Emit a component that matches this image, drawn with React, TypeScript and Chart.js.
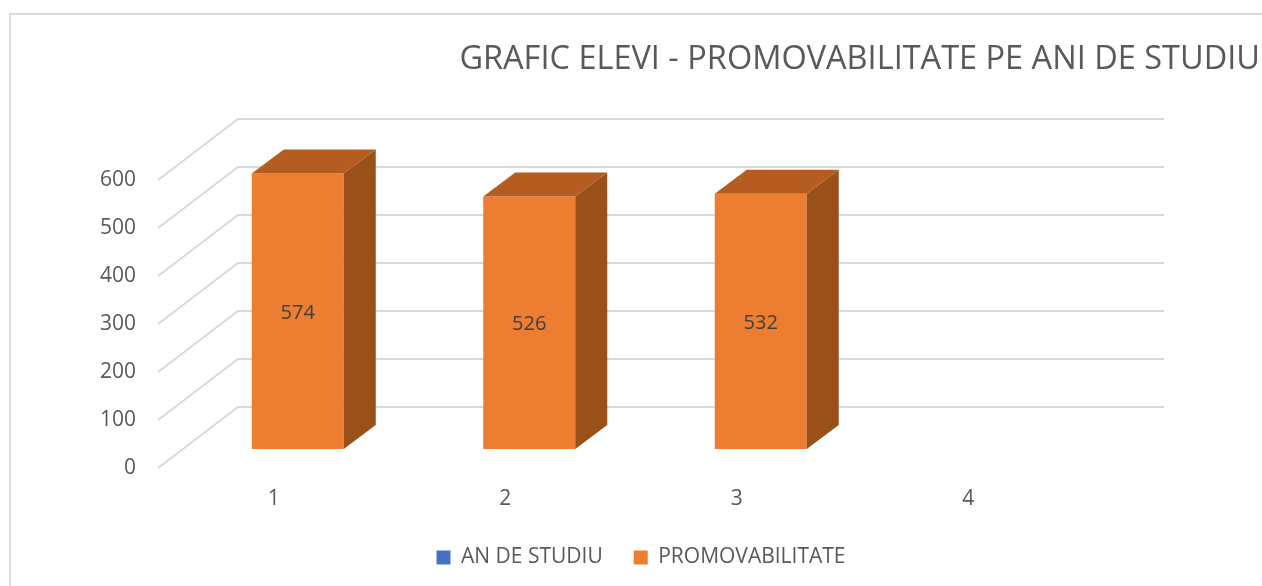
import React, { useEffect, useRef } from "react";
import { Chart, registerables } from "chart.js";

Chart.register(...registerables);

const categories = ["1", "2", "3", "4"];
const anDeStudiu: (number | null)[] = [null, null, null, null];
const promovabilitate: (number | null)[] = [574, 526, 532, null];
const titleText = "GRAFIC ELEVI - PROMOVABILITATE PE ANI DE STUDIU";
const seriesNames = ["AN DE STUDIU", "PROMOVABILITATE"];

const FONT = "'Open Sans', sans-serif";
const TEXT = "#595959";
const GRID = "#D9D9D9";
const WALL = { dx: 80, dy: 61 };
const BAR_SHIFT = { dx: 24, dy: 19 };
const BAR_DEPTH = { dx: 32, dy: 24 };
const VALUE_LABEL_DY = 2;

const scene = {
  id: "scene3d",
  beforeDatasetsDraw(chart: any) {
    const { ctx, scales } = chart;
    const y = scales.y;
    const left = chart.chartArea.left;
    const right = chart.chartArea.right;
    ctx.save();
    // frame of the chart object
    ctx.strokeStyle = GRID;
    ctx.lineWidth = 2;
    ctx.beginPath();
    ctx.moveTo(10, chart.height);
    ctx.lineTo(10, 14);
    ctx.lineTo(chart.width, 14);
    ctx.stroke();
    // gridlines: floor/side wall diagonals and back wall
    ctx.lineWidth = 1.8;
    y.ticks.forEach((t: any) => {
      const py = y.getPixelForValue(t.value);
      ctx.beginPath();
      ctx.moveTo(left, py);
      ctx.lineTo(left + WALL.dx, py - WALL.dy);
      ctx.lineTo(right + WALL.dx, py - WALL.dy);
      ctx.stroke();
    });
    ctx.restore();
    ctx.save();
    ctx.translate(BAR_SHIFT.dx, -BAR_SHIFT.dy);
  },
  afterDatasetsDraw(chart: any) {
    const { ctx } = chart;
    chart.data.datasets.forEach((ds: any, di: number) => {
      const meta = chart.getDatasetMeta(di);
      meta.data.forEach((bar: any, i: number) => {
        const v = ds.data[i];
        if (v === null || v === undefined) return;
        const l = bar.x - bar.width / 2;
        const r = bar.x + bar.width / 2;
        const t = bar.y;
        const b = bar.base;
        const { dx, dy } = BAR_DEPTH;
        ctx.fillStyle = ds.topColor;
        ctx.beginPath();
        ctx.moveTo(l, t);
        ctx.lineTo(l + dx, t - dy);
        ctx.lineTo(r + dx, t - dy);
        ctx.lineTo(r, t);
        ctx.closePath();
        ctx.fill();
        ctx.fillStyle = ds.sideColor;
        ctx.beginPath();
        ctx.moveTo(r, t);
        ctx.lineTo(r + dx, t - dy);
        ctx.lineTo(r + dx, b - dy);
        ctx.lineTo(r, b);
        ctx.closePath();
        ctx.fill();
        ctx.fillStyle = "#404040";
        ctx.font = `20px ${FONT}`;
        ctx.textAlign = "center";
        ctx.textBaseline = "middle";
        ctx.fillText(String(v), bar.x, (t + b) / 2 + VALUE_LABEL_DY);
      });
    });
    ctx.restore();
  },
};

export default function App() {
  const ref = useRef<HTMLCanvasElement>(null);
  useEffect(() => {
    document.body.style.margin = "0";
    const chart = new Chart(ref.current!, {
      type: "bar",
      data: {
        labels: categories,
        datasets: [
          {
            label: seriesNames[0],
            data: anDeStudiu,
            backgroundColor: "#4472C4",
            topColor: "#34589A",
            sideColor: "#2E4E88",
            clip: false,
          } as any,
          {
            label: seriesNames[1],
            data: promovabilitate,
            backgroundColor: "#ED7D31",
            topColor: "#B55D20",
            sideColor: "#9A5019",
            clip: false,
          } as any,
        ],
      },
      options: {
        animation: false,
        responsive: false,
        layout: { padding: { left: 22, right: 2, top: 0, bottom: 8 } },
        scales: {
          x: {
            stacked: true,
            grid: { display: false, drawTicks: false },
            border: { display: false },
            ticks: { color: TEXT, font: { family: FONT, size: 21 }, padding: 18, maxRotation: 0 },
            afterFit: (s: any) => {
              s.height = 48;
            },
          },
          y: {
            stacked: true,
            min: 0,
            max: 600,
            grid: { display: false, drawTicks: false },
            border: { display: false },
            ticks: { stepSize: 100, color: TEXT, font: { family: FONT, size: 21 }, padding: 22 },
            afterFit: (s: any) => {
              s.width = 136;
            },
          },
          spacer: {
            type: "linear",
            position: "right",
            display: true,
            grid: { display: false, drawTicks: false },
            border: { display: false },
            ticks: { display: false },
            afterFit: (s: any) => {
              s.width = 176;
            },
          },
        },
        datasets: { bar: { categoryPercentage: 1, barPercentage: 0.3975 } },
        plugins: {
          title: {
            display: true,
            text: titleText,
            align: "end",
            color: TEXT,
            font: { family: FONT, size: 32.5, weight: "normal", lineHeight: 1.2 },
            padding: { top: 40, bottom: 101 },
          },
          legend: {
            display: true,
            position: "bottom",
            labels: {
              color: TEXT,
              boxWidth: 14,
              boxHeight: 14,
              padding: 31,
              font: { family: FONT, size: 21 },
            },
          },
          tooltip: { enabled: false },
        },
      } as any,
      plugins: [scene],
    });
    return () => chart.destroy();
  }, []);
  return (
    <div style={{ width: 1262, height: 586, background: "#fff" }}>
      <canvas ref={ref} width={1262} height={586} style={{ display: "block" }} />
    </div>
  );
}
